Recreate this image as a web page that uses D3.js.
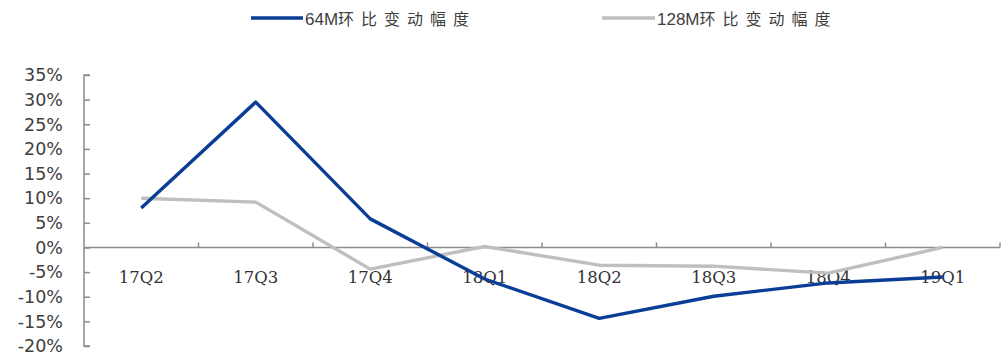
<!DOCTYPE html>
<html><head><meta charset="utf-8">
<script src="https://cdn.jsdelivr.net/npm/d3@7/dist/d3.min.js"></script>
<style>
html,body{margin:0;padding:0;background:#fff;}
</style></head>
<body>
<svg id="chart" width="1006" height="362"></svg>
<script>
const categories = ["17Q2","17Q3","17Q4","18Q1","18Q2","18Q3","18Q4","19Q1"];
const series64M = [8.0, 29.5, 5.8, -6.4, -14.4, -9.9, -7.2, -6.0];
const series128M = [10.0, 9.2, -4.4, 0.2, -3.6, -3.8, -5.2, 0.0];
const yTicks = [35,30,25,20,15,10,5,0,-5,-10,-15,-20];
const seriesNames = ["64M环比变动幅度","128M环比变动幅度"];
const seriesColors = ["#0a3d96","#bfbfbf"];

(function(){
const svg = d3.select("#chart");
const pL = 84, pR = 1000, pT = 75, pB = 346;

const x = d3.scaleBand().domain(categories).range([pL, pR]).padding(0);
const y = d3.scaleLinear().domain([-20, 35]).range([pB, pT]);

const axisColor = "#8c8c8c";

// Y axis
const yAxis = d3.axisRight(y).tickValues(yTicks).tickSize(6).tickFormat("");
const gy = svg.append("g").attr("transform", `translate(${pL},0)`).call(yAxis);
gy.selectAll("path,line").attr("stroke", axisColor).attr("stroke-width", 1.5);
gy.select(".domain").attr("d", `M6,${pT}H0V${pB}H6`);

svg.append("g").selectAll("text").data(yTicks).join("text")
  .attr("x", 63).attr("y", d => y(d)).attr("dy", "0.36em")
  .attr("text-anchor", "end")
  .attr("font-family", "DejaVu Sans, Verdana, sans-serif")
  .attr("font-size", 17.5).attr("fill", "#404040")
  .text(d => d + "%");

// X axis at zero
const boundaries = d3.range(categories.length + 1).map(i => pL + i * x.bandwidth());
const gx = svg.append("g");
gx.append("line").attr("x1", pL).attr("x2", pR).attr("y1", y(0)).attr("y2", y(0))
  .attr("stroke", axisColor).attr("stroke-width", 1.5);
gx.selectAll("line.tk").data(boundaries.slice(1)).join("line").attr("class","tk")
  .attr("x1", d => d).attr("x2", d => d).attr("y1", y(0)).attr("y2", y(0) - 5)
  .attr("stroke", axisColor).attr("stroke-width", 1.5);

svg.append("g").selectAll("text").data(categories).join("text")
  .attr("x", d => x(d) + x.bandwidth() / 2).attr("y", y(0) + 30).attr("dy", "0.35em")
  .attr("text-anchor", "middle")
  .attr("font-family", "DejaVu Serif, serif")
  .attr("font-size", 16.5).attr("fill", "#333")
  .text(d => d);

// Lines
const line = d3.line().x((d, i) => x(categories[i]) + x.bandwidth() / 2).y(d => y(d));
[series128M, series64M].forEach((s, k) => {
  svg.append("path").datum(s).attr("d", line)
    .attr("fill", "none")
    .attr("stroke", k === 0 ? seriesColors[1] : seriesColors[0])
    .attr("stroke-width", 3.4)
    .attr("stroke-linejoin", "round");
});

// Legend
const legendItems = [
  {name: seriesNames[0], color: seriesColors[0], x1: 251, x2: 303, tx: 305},
  {name: seriesNames[1], color: seriesColors[1], x1: 602, x2: 655, tx: 657}
];
const lg = svg.append("g");
legendItems.forEach(it => {
  lg.append("line").attr("x1", it.x1).attr("x2", it.x2).attr("y1", 18).attr("y2", 18)
    .attr("stroke", it.color).attr("stroke-width", 3.5);
  const m = it.name.match(/^([0-9A-Z]+)(.*)$/);
  const t = lg.append("text").attr("x", it.tx).attr("y", 19).attr("dy", "0.35em")
    .attr("font-size", 17).attr("fill", "#404040");
  t.append("tspan").attr("font-family", "Liberation Sans, Arial, sans-serif").text(m[1]);
  t.append("tspan").attr("font-family", "Noto Sans CJK SC, sans-serif")
    .attr("letter-spacing", 7).attr("font-size", 16).text(m[2]);
});
})();
</script>
</body></html>
